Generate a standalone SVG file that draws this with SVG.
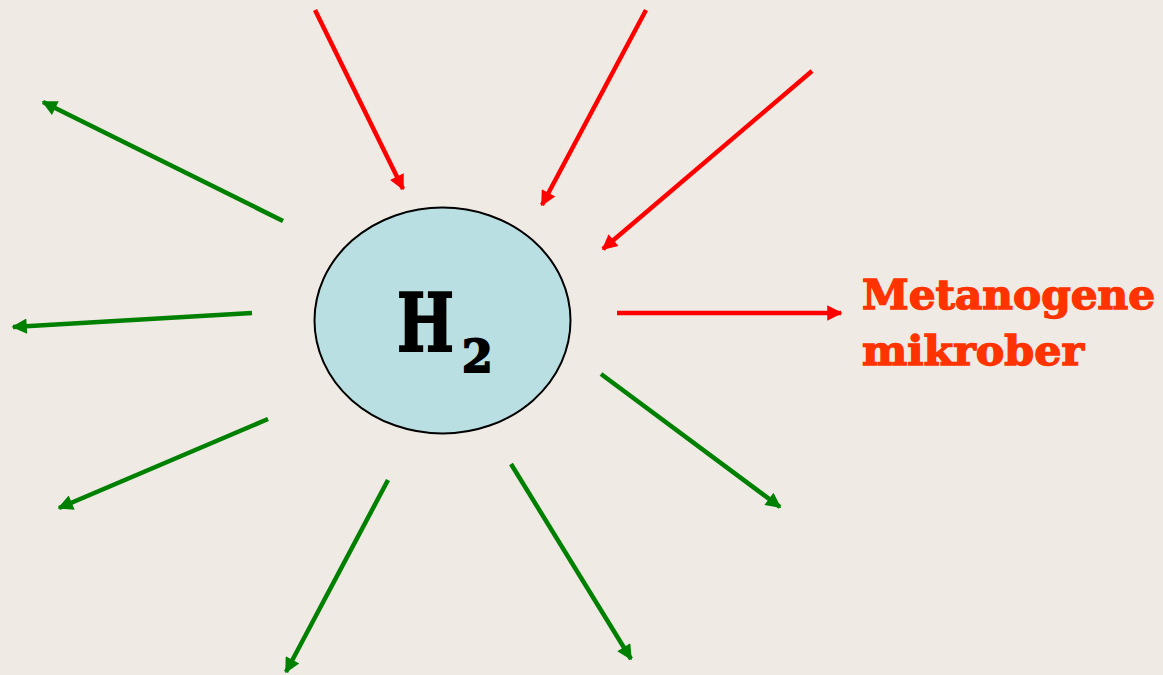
<svg xmlns="http://www.w3.org/2000/svg" width="1163" height="675" viewBox="0 0 1163 675">
<defs>
<marker id="ar" viewBox="0 0 10 10" refX="9" refY="5" markerWidth="4" markerHeight="3.4" orient="auto" markerUnits="strokeWidth"><path d="M0,0 L10,5 L0,10 z" fill="#FF0000"/></marker>
<marker id="ag" viewBox="0 0 10 10" refX="9" refY="5" markerWidth="4" markerHeight="3.4" orient="auto" markerUnits="strokeWidth"><path d="M0,0 L10,5 L0,10 z" fill="#008000"/></marker>
</defs>
<style>
.r{stroke:#FF0000;stroke-width:4.5;fill:none;marker-end:url(#ar)}
.g{stroke:#008000;stroke-width:4.5;fill:none;marker-end:url(#ag)}
.lbl{font-family:"DejaVu Serif",serif;font-weight:bold;fill:#FF3300;stroke:#FF3300;stroke-width:1.4;font-size:41px}
.h{font-family:"DejaVu Serif",serif;font-weight:bold;fill:#000;stroke:#000;stroke-width:2}
</style>
<rect width="1163" height="675" fill="#EFEAE3"/>
<g id="connectors">
<line class="r" x1="315" y1="10" x2="403" y2="189"/>
<line class="r" x1="646" y1="10" x2="542" y2="205"/>
<line class="r" x1="812" y1="71" x2="603" y2="249"/>
<line class="r" x1="617" y1="313" x2="841" y2="313"/>
<line class="g" x1="283" y1="221" x2="43" y2="102"/>
<line class="g" x1="252" y1="313" x2="13" y2="327"/>
<line class="g" x1="268" y1="419" x2="59" y2="508"/>
<line class="g" x1="388" y1="480" x2="286" y2="672"/>
<line class="g" x1="511" y1="464" x2="631" y2="659"/>
<line class="g" x1="601" y1="374" x2="780" y2="507"/>
</g>
<g id="h2">
<ellipse cx="442.5" cy="320.5" rx="128" ry="113" fill="#BADFE2" stroke="#000" stroke-width="2"/>
<text class="h" x="397" y="351" font-size="80"><tspan textLength="57" lengthAdjust="spacingAndGlyphs">H</tspan><tspan x="462" y="372" font-size="44">2</tspan></text>
</g>
<g id="metanogene">
<text class="lbl" x="862" y="309" textLength="293" lengthAdjust="spacingAndGlyphs">Metanogene</text>
<text class="lbl" x="862" y="365" textLength="222" lengthAdjust="spacingAndGlyphs">mikrober</text>
</g>
</svg>
